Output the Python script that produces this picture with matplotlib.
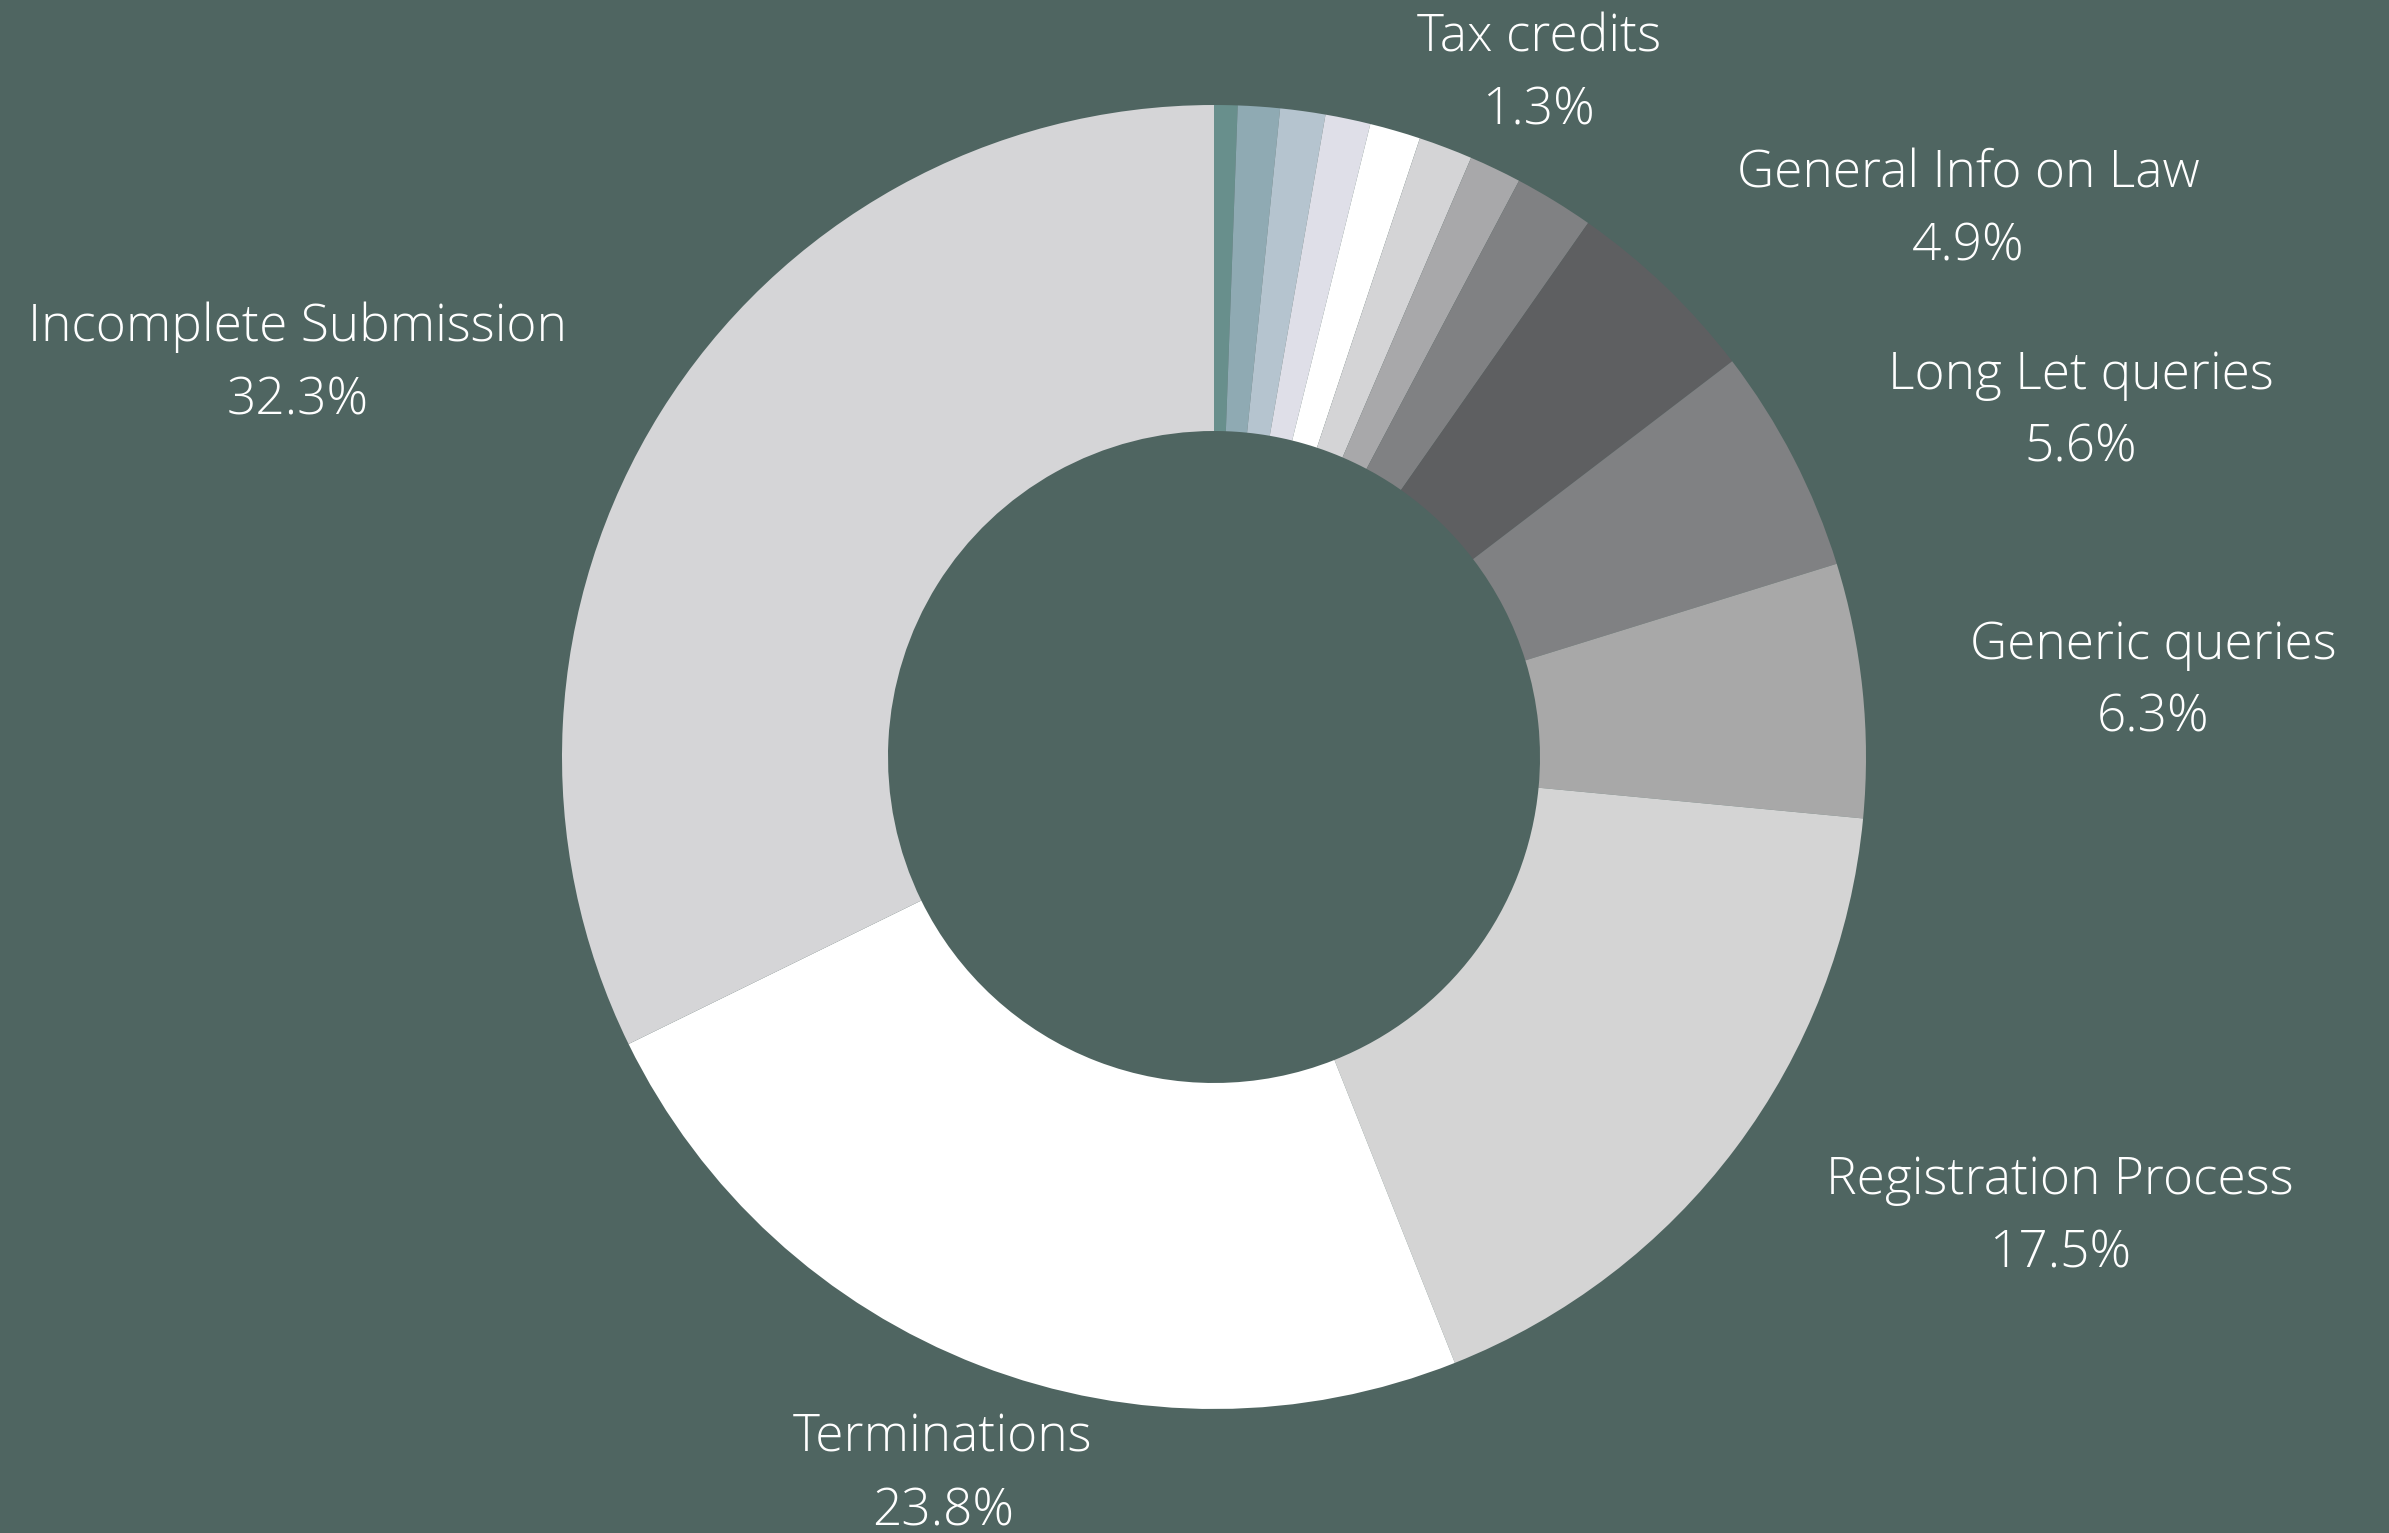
import matplotlib
matplotlib.use("Agg")
import matplotlib.pyplot as plt
from matplotlib import font_manager

# slices in drawing order, clockwise from 12 o'clock (ascending size)
categories = ["Other A", "Other B", "Other C", "Other D", "Other E", "Other F",
              "Tax credits", "Other G", "General Info on Law", "Long Let queries",
              "Generic queries", "Registration Process", "Terminations",
              "Incomplete Submission"]
values = [0.58, 1.04, 1.12, 1.12, 1.26, 1.34, 1.3, 1.98, 4.9, 5.6, 6.3, 17.5, 23.8, 32.3]
labelled = ["Tax credits", "General Info on Law", "Long Let queries", "Generic queries",
            "Registration Process", "Terminations", "Incomplete Submission"]

colors = ["#688f8c", "#8faab3", "#b5c4cf", "#dfdfe8", "#ffffff", "#d4d4d6",
          "#a8a8aa", "#808183", "#5e5f61", "#808183", "#a8a8a8", "#d4d4d4",
          "#ffffff", "#d5d5d7"]
bg = "#4f6561"

# label anchor (pie radius units), chosen to sit like the original
label_pos = {
    "Tax credits": (0.498, 1.047),
    "General Info on Law": (1.157, 0.839),
    "Long Let queries": (1.330, 0.530),
    "Generic queries": (1.440, 0.116),
    "Registration Process": (1.297, -0.706),
    "Terminations": (-0.416, -1.101),
    "Incomplete Submission": (-1.406, 0.603),
}

names = {f.name for f in font_manager.fontManager.ttflist}
family = "Open Sans" if "Open Sans" in names else "DejaVu Sans"

W, H = 2389, 1533
fig = plt.figure(figsize=(W / 100, H / 100), dpi=100)
fig.patch.set_facecolor(bg)

cx, cy, r = 1214, 757, 652
ax = fig.add_axes([(cx - r) / W, (H - cy - r) / H, 2 * r / W, 2 * r / H])
ax.set_facecolor(bg)
ax.pie(values, colors=colors, startangle=90, counterclock=False, radius=1,
       wedgeprops=dict(width=0.5, linewidth=0))
ax.set_xlim(-1, 1)
ax.set_ylim(-1, 1)
ax.set_aspect("equal")
ax.axis("off")

for name, v in zip(categories, values):
    if name not in labelled:
        continue
    x, y = label_pos[name]
    ax.text(x, y, f"{name}\n{v:.1f}%", ha="center", va="center", color="white",
            fontsize=37, family=family, fontweight="light", linespacing=1.55,
            clip_on=False)

fig.savefig("out.png", dpi=100, facecolor=bg)
